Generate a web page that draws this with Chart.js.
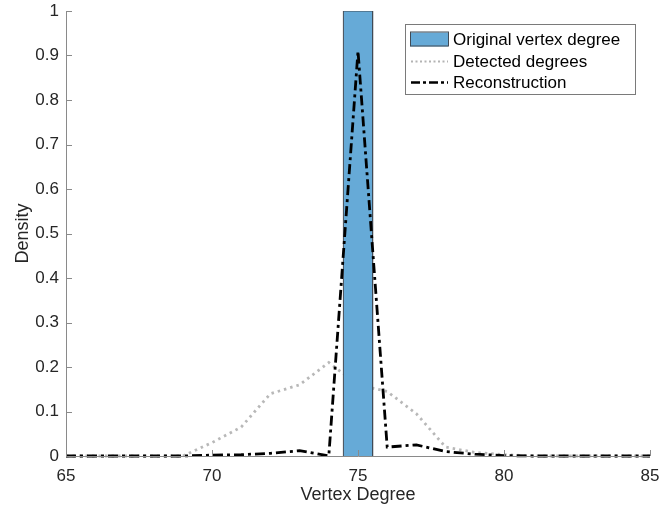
<!DOCTYPE html>
<html>
<head>
<meta charset="utf-8">
<script src="https://cdn.jsdelivr.net/npm/chart.js@4.4.0/dist/chart.umd.min.js"></script>
<style>
  html, body { margin: 0; padding: 0; background: #fff; }
  #wrap { width: 671px; height: 508px; }
</style>
</head>
<body>
<div id="wrap"><canvas id="chart" width="671" height="508"></canvas></div>
<script>
// degrees on the x axis
const degrees = [65, 66, 67, 68, 69, 70, 71, 72, 73, 74, 75, 76, 77, 78, 79, 80, 81, 82, 83, 84, 85];
// grey dotted curve
const detected = [0, 0, 0, 0, 0, 0.03, 0.065, 0.14, 0.16, 0.21, 0.16, 0.145, 0.095, 0.02, 0.008, 0.003, 0, 0, 0, 0, 0];
// black dash-dot curve
const reconstruction = [0, 0, 0, 0, 0, 0.002, 0.003, 0.006, 0.012, 0, 0.91, 0.02, 0.025, 0.01, 0.004, 0.001, 0, 0, 0, 0, 0];
// original histogram bar
const barEdges = [74.5, 75.5];
const barHeight = 1;
const xTicks = [65, 70, 75, 80, 85];
const yTicks = [0, 0.1, 0.2, 0.3, 0.4, 0.5, 0.6, 0.7, 0.8, 0.9, 1];

const FONT = '"Liberation Sans", Arial, Helvetica, sans-serif';
const TXT = '#262626';
const AXIS = '#8a8a8a';

const toPts = (ys) => degrees.map((d, i) => ({ x: d, y: ys[i] }));

const barPts = [
  { x: barEdges[0], y: 0 },
  { x: barEdges[0], y: barHeight },
  { x: barEdges[1], y: barHeight },
  { x: barEdges[1], y: 0 }
];

// matlab-ish inward ticks + boxed legend
const decor = {
  id: 'decor',
  afterDraw(chart) {
    const ctx = chart.ctx;
    const xs = chart.scales.x, ys = chart.scales.y;
    const a = chart.chartArea;
    ctx.save();
    ctx.strokeStyle = AXIS;
    ctx.lineWidth = 1;
    ctx.beginPath();
    ctx.moveTo(a.left + 0.5, a.top);
    ctx.lineTo(a.left + 0.5, a.bottom + 0.5);
    ctx.lineTo(a.right, a.bottom + 0.5);
    xTicks.forEach(v => {
      const px = Math.round(xs.getPixelForValue(v)) + 0.5;
      ctx.moveTo(px, a.bottom);
      ctx.lineTo(px, a.bottom - 6);
    });
    yTicks.forEach(v => {
      const py = Math.round(ys.getPixelForValue(v)) + 0.5;
      ctx.moveTo(a.left, py);
      ctx.lineTo(a.left + 6, py);
    });
    ctx.stroke();

    // legend
    const lx = 405.5, ly = 24.5, lw = 230, lh = 70;
    ctx.fillStyle = '#fff';
    ctx.fillRect(lx, ly, lw, lh);
    ctx.strokeStyle = '#7a7a7a';
    ctx.strokeRect(lx, ly, lw, lh);
    const rows = [ly + 15, ly + 37, ly + 58];
    // bar swatch
    ctx.fillStyle = '#66aad7';
    ctx.fillRect(410, rows[0] - 7, 38, 14);
    ctx.strokeStyle = '#404a55';
    ctx.strokeRect(410.5, rows[0] - 7.5, 38, 14);
    // dotted swatch
    ctx.strokeStyle = '#b3b3b3';
    ctx.lineWidth = 2;
    ctx.setLineDash([2, 2.5]);
    ctx.beginPath();
    ctx.moveTo(411, rows[1]);
    ctx.lineTo(448, rows[1]);
    ctx.stroke();
    // dash-dot swatch
    ctx.strokeStyle = '#000';
    ctx.lineWidth = 2.5;
    ctx.setLineDash([9, 3, 3, 3]);
    ctx.beginPath();
    ctx.moveTo(411, rows[2]);
    ctx.lineTo(448, rows[2]);
    ctx.stroke();
    ctx.setLineDash([]);
    ctx.fillStyle = '#000';
    ctx.font = '17px ' + FONT;
    ctx.textBaseline = 'middle';
    ctx.fillText('Original vertex degree', 453, rows[0] + 1);
    ctx.fillText('Detected degrees', 453, rows[1] + 1);
    ctx.fillText('Reconstruction', 453, rows[2] + 1);
    ctx.restore();
  }
};

new Chart(document.getElementById('chart'), {
  type: 'line',
  data: {
    datasets: [
      {
        label: 'Reconstruction',
        data: toPts(reconstruction),
        borderColor: '#000',
        borderWidth: 2.8,
        borderDash: [10, 4, 3, 4],
        pointRadius: 0,
        tension: 0,
        fill: false,
        clip: 4,
        order: 1
      },
      {
        label: 'Original vertex degree',
        data: barPts,
        borderColor: '#404a55',
        backgroundColor: '#66aad7',
        borderWidth: 1,
        pointRadius: 0,
        tension: 0,
        fill: 'origin',
        order: 2
      },
      {
        label: 'Detected degrees',
        data: toPts(detected),
        borderColor: '#b8b8b8',
        borderWidth: 2.8,
        borderDash: [2.5, 4],
        pointRadius: 0,
        tension: 0,
        fill: false,
        clip: 4,
        order: 3
      }
    ]
  },
  options: {
    responsive: false,
    animation: false,
    layout: { padding: { left: 0, right: 21, top: 11, bottom: 0 } },
    plugins: { legend: { display: false }, tooltip: { enabled: false } },
    scales: {
      x: {
        type: 'linear',
        min: 65, max: 85,
        afterBuildTicks: (s) => { s.ticks = xTicks.map(v => ({ value: v })); },
        afterFit: (s) => { s.height = 52; },
        grid: { display: false, tickLength: 8 },
        border: { display: false },
        ticks: { color: TXT, font: { family: FONT, size: 17 }, padding: 2, maxRotation: 0 },
        title: { display: true, text: 'Vertex Degree', color: TXT, font: { family: FONT, size: 18 }, padding: { top: 5, bottom: 2 } }
      },
      y: {
        type: 'linear',
        min: 0, max: 1,
        afterBuildTicks: (s) => { s.ticks = yTicks.map(v => ({ value: v })); },
        afterFit: (s) => { s.width = 66; },
        grid: { display: false, tickLength: 7 },
        border: { display: false },
        ticks: {
          color: TXT, font: { family: FONT, size: 17 }, padding: 0,
          callback: (v) => String(Math.round(v * 10) / 10)
        },
        title: { display: true, text: 'Density', color: TXT, font: { family: FONT, size: 18 }, padding: { top: 12, bottom: 0 } }
      }
    }
  },
  plugins: [decor]
});
</script>
</body>
</html>
